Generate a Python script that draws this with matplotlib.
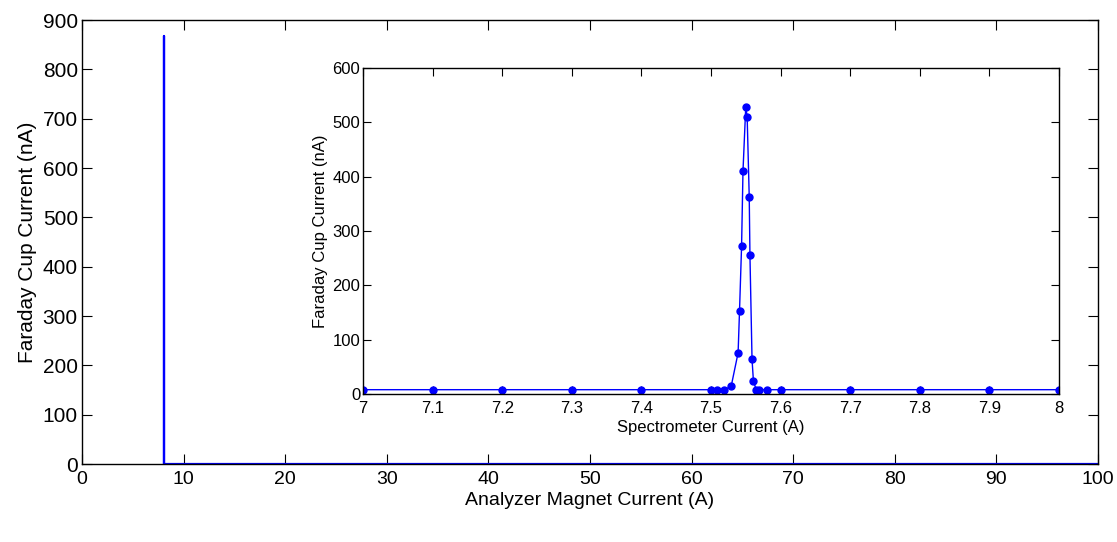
import matplotlib.pyplot as plt

# main scan: analyzer magnet current vs faraday cup current
main_x = [8.1, 8.1, 8.1, 100.0]
main_y = [0.0, 868.0, 0.0, 0.0]

# inset: spectrometer scan around the peak
spec_x = [7.0, 7.1, 7.2, 7.3, 7.4, 7.5, 7.509, 7.519, 7.529, 7.539, 7.541,
          7.544, 7.546, 7.550, 7.552, 7.555, 7.556, 7.559, 7.561, 7.565,
          7.569, 7.580, 7.6, 7.7, 7.8, 7.9, 8.0]
spec_y = [8, 8, 8, 8, 8, 8, 8, 8, 14, 76, 152,
          273, 410, 529, 510, 362, 256, 64, 24, 8,
          8, 8, 8, 8, 8, 8, 8]

main_font = ['Liberation Sans', 'DejaVu Sans']
narrow_font = ['Liberation Sans Narrow', 'Liberation Sans', 'DejaVu Sans']

plt.rc('font', family=main_font)
plt.rc(('xtick', 'ytick'), direction='in')
plt.rc('xtick', top=True, bottom=True)
plt.rc('ytick', left=True, right=True)
plt.rc('axes', linewidth=1.0)


def main():
    fig = plt.figure(figsize=(11.17, 5.42), dpi=100)

    ax = fig.add_axes([0.0734, 0.1439, 0.9096, 0.8191])
    ax.plot(main_x, main_y, color='#0000ff', lw=1.6)
    ax.set_xlim(0, 100)
    ax.set_ylim(0, 900)
    ax.set_xticks(range(0, 101, 10))
    ax.set_yticks(range(0, 901, 100))
    ax.tick_params(axis='y', labelsize=15, length=7, width=0.8, pad=3)
    ax.tick_params(axis='x', labelsize=14, length=7, width=0.8, pad=5)
    ax.set_xlabel('Analyzer Magnet Current (A)', fontsize=14, labelpad=3)
    ax.set_ylabel('Faraday Cup Current (nA)', fontsize=15, labelpad=4)

    ins = fig.add_axes([0.325, 0.273, 0.623, 0.6015])
    ins.plot(spec_x, spec_y, color='#0000ff', lw=1.0, marker='o',
             markersize=5)
    ins.set_xlim(7, 8)
    ins.set_ylim(0, 600)
    ins.set_xticks([7 + i / 10 for i in range(11)])
    ins.set_xticklabels(['7', '7.1', '7.2', '7.3', '7.4', '7.5', '7.6',
                         '7.7', '7.8', '7.9', '8'])
    ins.set_yticks(range(0, 601, 100))
    ins.tick_params(axis='y', labelsize=12, length=6, width=0.8, pad=2)
    ins.tick_params(axis='x', labelsize=12, length=6, width=0.8, pad=5)
    for lab in ins.get_xticklabels() + ins.get_yticklabels():
        lab.set_family(narrow_font)
    ins.set_xlabel('Spectrometer Current (A)', fontsize=12, labelpad=3,
                   family=narrow_font)
    ins.set_ylabel('Faraday Cup Current (nA)', fontsize=12, labelpad=3,
                   family=narrow_font)

    plt.savefig('out.png', dpi=100)


if __name__ == "__main__":
    main()
